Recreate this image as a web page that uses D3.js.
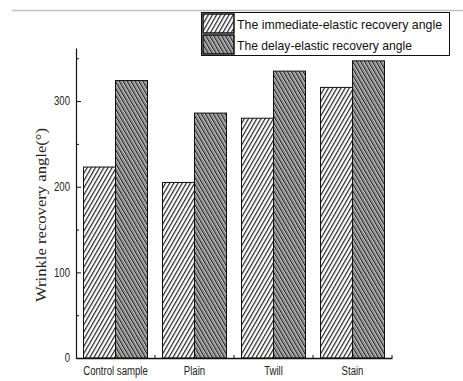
<!DOCTYPE html>
<html>
<head>
<meta charset="utf-8">
<script src="https://cdn.jsdelivr.net/npm/d3@7"></script>
<style>
  html, body { margin: 0; padding: 0; background: #fff; }
  svg { display: block; }
  .narrow { font-family: "Liberation Sans Narrow", "Arial Narrow", "Liberation Sans", Arial, sans-serif; }
</style>
</head>
<body>
<svg id="chart" width="463" height="381"></svg>
<script>
// Wrinkle recovery angles for each fabric treatment
const categories = ["Control sample", "Plain", "Twill", "Stain"];
const seriesNames = ["The immediate-elastic recovery angle", "The delay-elastic recovery angle"];
const immediateAngle = [223, 205, 280, 316];
const delayAngle = [324, 286, 335, 347];
const majorTicks = [0, 100, 200, 300];
const minorTicks = [50, 150, 250, 350];
const yTitle = "Wrinkle recovery angle(°)";

const svg = d3.select("#chart");
const plotLeft = 76, plotRight = 392, plotBottom = 358, plotTop = 48;

const rows = categories.map((c, i) => ({ cat: c, values: [immediateAngle[i], delayAngle[i]] }));

// squeeze a text horizontally to mimic a condensed face
function condense(sel, k) {
  sel.each(function () {
    const w = this.getComputedTextLength();
    d3.select(this).attr("textLength", w * k).attr("lengthAdjust", "spacingAndGlyphs");
  });
}

// hatch fills
const defs = svg.append("defs");
const p1 = defs.append("pattern").attr("id", "hatchA")
  .attr("patternUnits", "userSpaceOnUse").attr("width", 3.6).attr("height", 10)
  .attr("patternTransform", "rotate(30)");
p1.append("rect").attr("width", 3.6).attr("height", 10).attr("fill", "#fff");
p1.append("line").attr("x1", 0.6).attr("x2", 0.6).attr("y1", 0).attr("y2", 10)
  .attr("stroke", "#111").attr("stroke-width", 1.1);

const p2 = defs.append("pattern").attr("id", "hatchB")
  .attr("patternUnits", "userSpaceOnUse").attr("width", 3.4).attr("height", 10)
  .attr("patternTransform", "rotate(-30)");
p2.append("rect").attr("width", 3.4).attr("height", 10).attr("fill", "#d0d0d0");
p2.append("line").attr("x1", 0.6).attr("x2", 0.6).attr("y1", 0).attr("y2", 10)
  .attr("stroke", "#111").attr("stroke-width", 1.1);
p2.append("line").attr("x1", 2.2).attr("x2", 2.2).attr("y1", 0).attr("y2", 10)
  .attr("stroke", "#7a7a7a").attr("stroke-width", 0.8);

const fills = ["url(#hatchA)", "url(#hatchB)"];

// thin rule across the top
svg.append("line").attr("x1", 12).attr("x2", 463).attr("y1", 10.5).attr("y2", 10.5)
  .attr("stroke", "#c0c0c0").attr("stroke-width", 1.5);

const x0 = d3.scaleBand().domain(categories).range([plotLeft, plotRight])
  .paddingInner(0.19).paddingOuter(0.095);
const x1 = d3.scaleBand().domain([0, 1]).range([0, x0.bandwidth()]);
const y = d3.scaleLinear().domain([0, 362]).range([plotBottom, plotTop]);

// bars
const g = svg.append("g");
g.selectAll("g.grp").data(rows).join("g").attr("class", "grp")
  .attr("transform", d => `translate(${x0(d.cat)},0)`)
  .selectAll("rect").data(d => d.values.map((v, i) => ({ v, i }))).join("rect")
  .attr("x", d => x1(d.i)).attr("width", x1.bandwidth())
  .attr("y", d => y(d.v)).attr("height", d => y(0) - y(d.v))
  .attr("fill", d => fills[d.i]).attr("stroke", "#111").attr("stroke-width", 1);

// y axis
const yAxis = svg.append("g").attr("transform", `translate(${plotLeft},0)`)
  .call(d3.axisLeft(y).tickValues(majorTicks).tickSize(-5).tickPadding(6).tickSizeOuter(0));
yAxis.select(".domain").attr("stroke", "#111").attr("stroke-width", 1.2);
yAxis.selectAll(".tick line").attr("stroke", "#111");
yAxis.selectAll("text").attr("class", "narrow").attr("font-size", 12).attr("fill", "#222")
  .call(condense, 0.8);
svg.append("g").attr("transform", `translate(${plotLeft},0)`)
  .call(d3.axisLeft(y).tickValues(minorTicks).tickSize(-3).tickFormat("").tickSizeOuter(0))
  .call(a => a.select(".domain").remove())
  .selectAll(".tick line").attr("stroke", "#111");

// x axis
const xAxis = svg.append("g").attr("transform", `translate(0,${plotBottom})`)
  .call(d3.axisBottom(x0).tickSize(0).tickPadding(8).tickSizeOuter(0));
xAxis.select(".domain").attr("stroke", "#111").attr("stroke-width", 1.4);
xAxis.selectAll("text").attr("class", "narrow").attr("font-size", 12).attr("fill", "#222")
  .call(condense, 0.8);
// boundary ticks between groups
const bounds = categories.slice(1).map(c => x0(c) - x0.step() * x0.paddingInner() / 2).concat([plotRight]);
svg.append("g").selectAll("line").data(bounds).join("line")
  .attr("x1", d => d).attr("x2", d => d).attr("y1", plotBottom).attr("y2", plotBottom - 3)
  .attr("stroke", "#111");

// y title
svg.append("text")
  .attr("transform", `translate(46,${(128 + 302) / 2}) rotate(-90)`)
  .attr("text-anchor", "middle")
  .attr("font-family", "'Liberation Serif', 'Times New Roman', serif")
  .attr("font-size", 14).attr("fill", "#222")
  .attr("textLength", 174).attr("lengthAdjust", "spacingAndGlyphs")
  .text(yTitle);

// legend
const lg = svg.append("g");
lg.append("rect").attr("x", 201.5).attr("y", 12.5).attr("width", 248).attr("height", 43)
  .attr("fill", "#fff").attr("stroke", "#111").attr("stroke-width", 1);
seriesNames.forEach((name, i) => {
  const yy = 13.5 + i * 21;
  lg.append("rect").attr("x", 203).attr("y", yy + 0.5).attr("width", 31).attr("height", 19)
    .attr("fill", fills[i]).attr("stroke", "#111").attr("stroke-width", 1.5);
  lg.append("text").attr("class", "narrow").attr("x", 237).attr("y", yy + 15)
    .attr("font-size", 13.5).attr("fill", "#111")
    .attr("textLength", i === 0 ? 205 : 175).attr("lengthAdjust", "spacingAndGlyphs")
    .text(name);
});
</script>
</body>
</html>
